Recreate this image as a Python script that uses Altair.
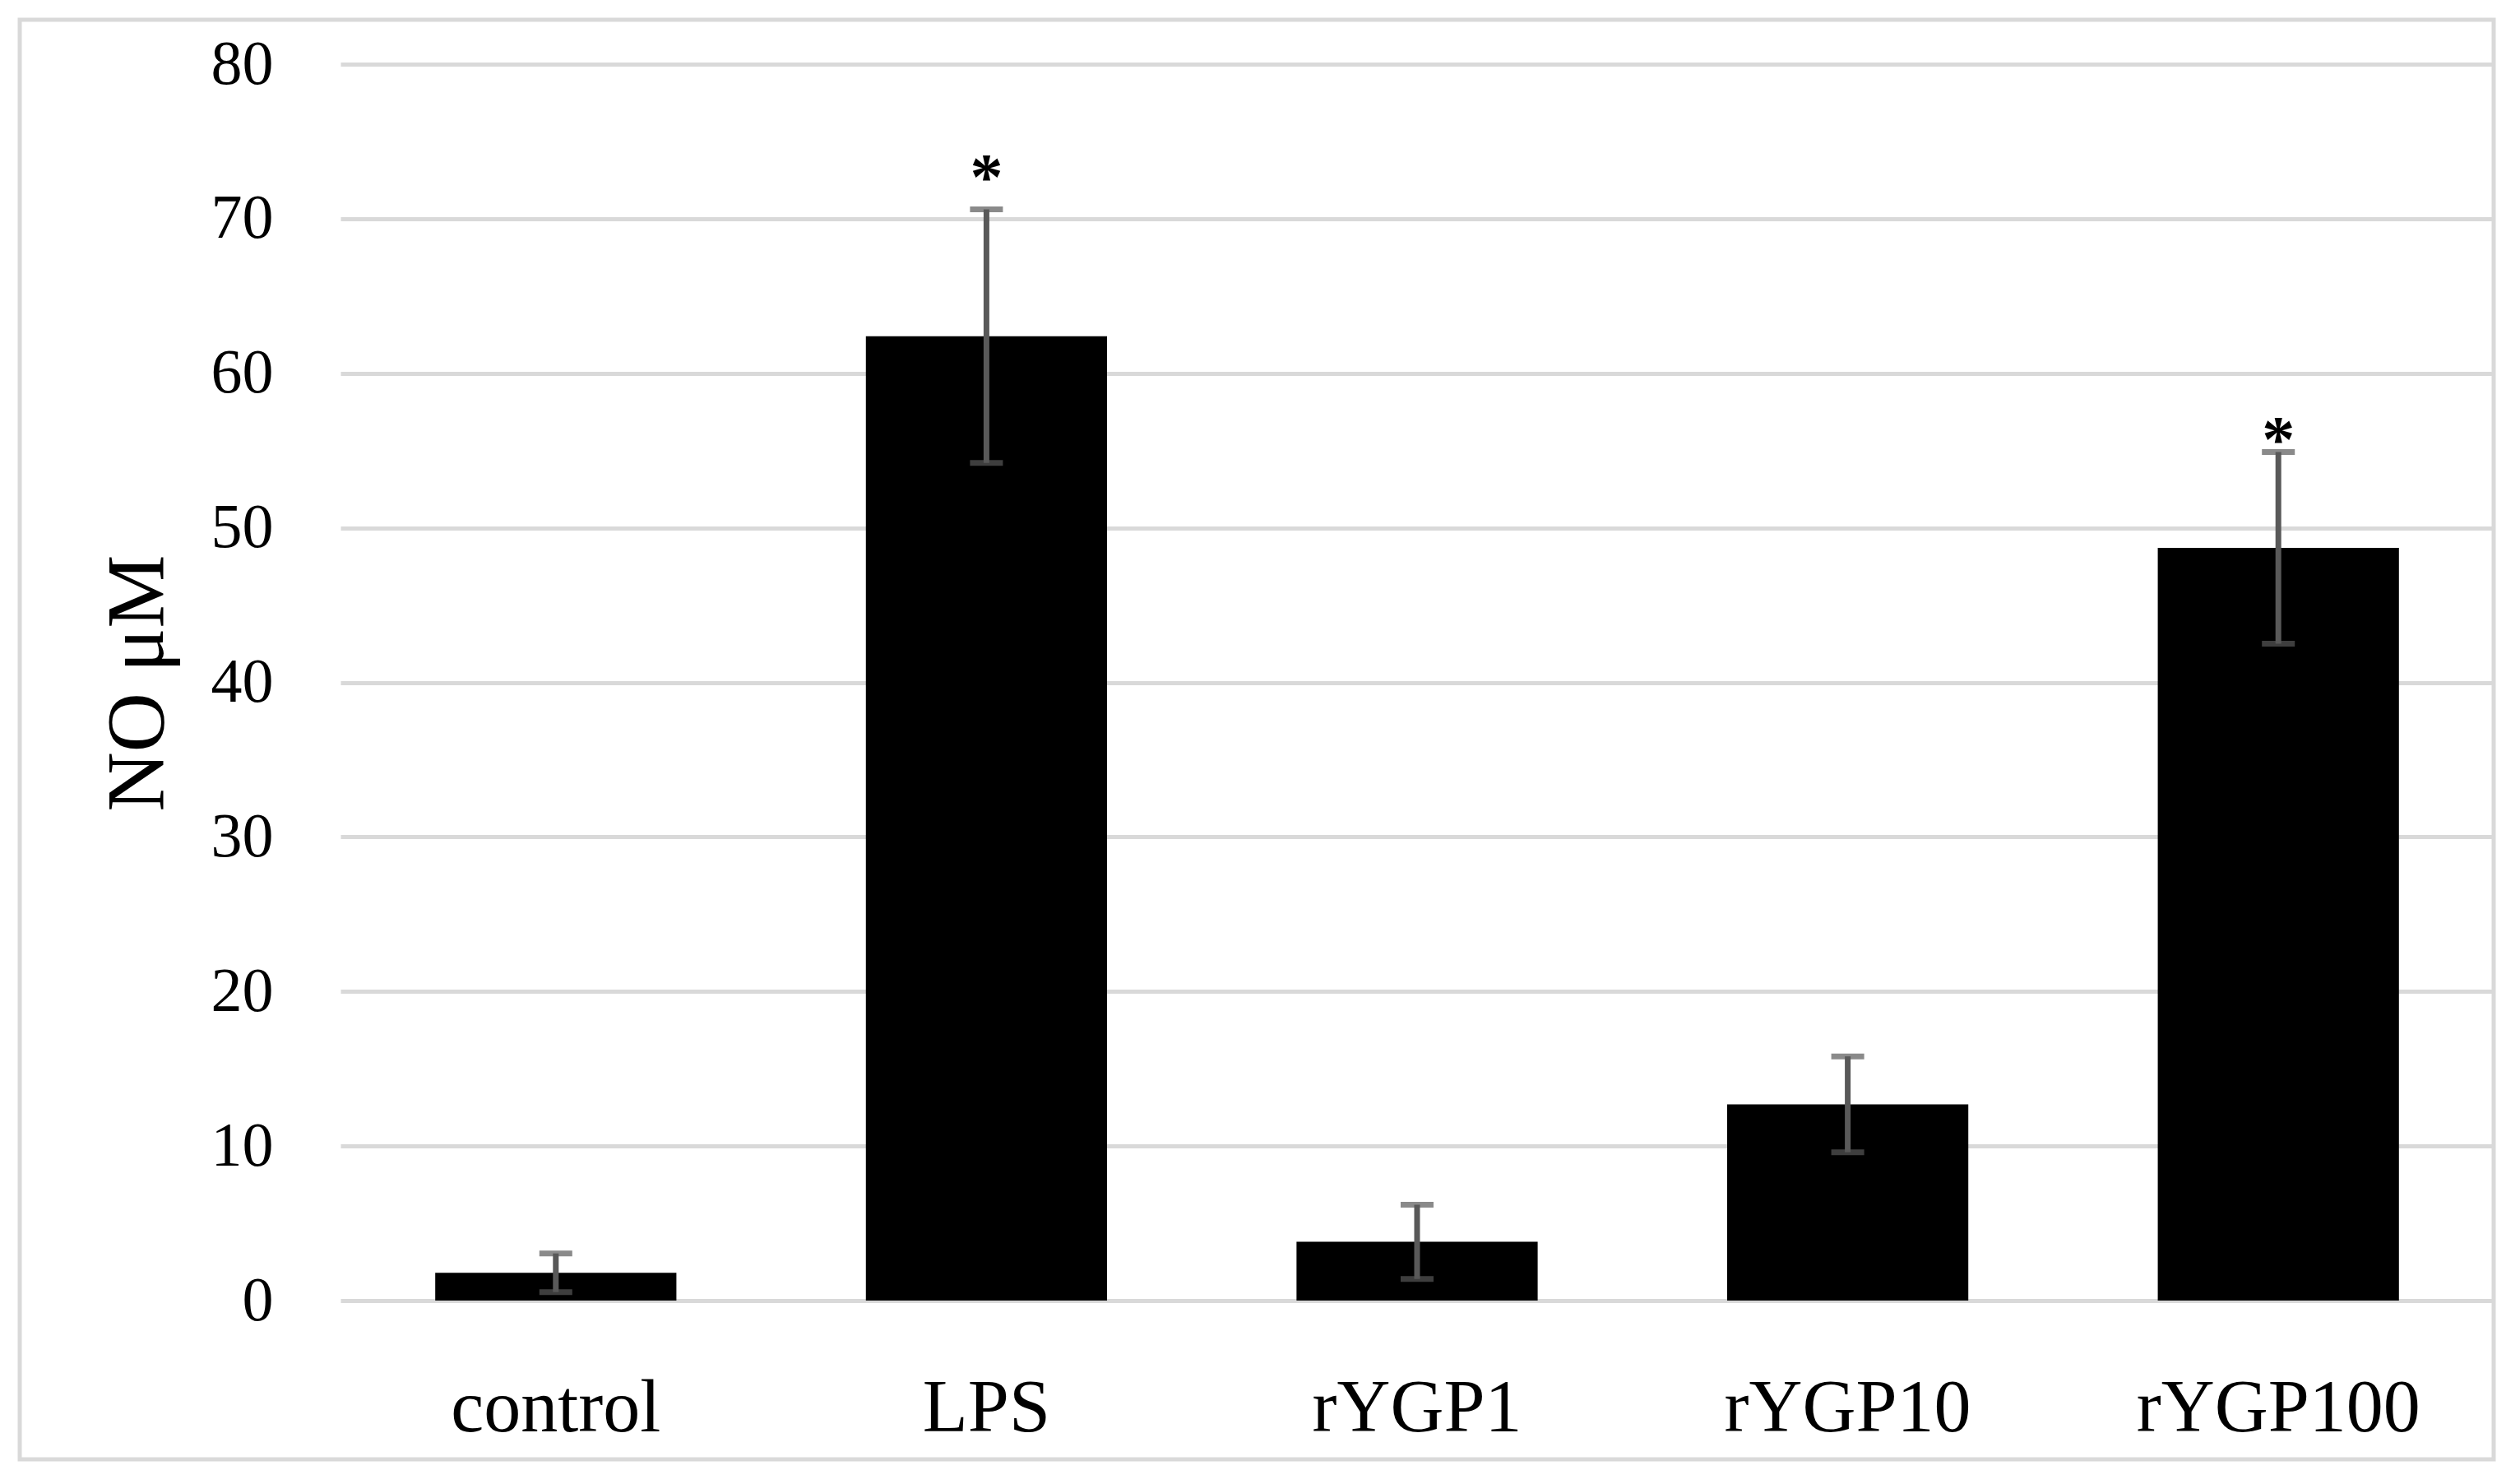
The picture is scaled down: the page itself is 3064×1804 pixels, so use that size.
import altair as alt
import pandas as pd

categories = ["control", "LPS", "rYGP1", "rYGP10", "rYGP100"]
means = [1.8, 62.4, 3.8, 12.7, 48.7]
errors = [1.25, 8.2, 2.4, 3.1, 6.2]
star_categories = ["LPS", "rYGP100"]
star_positions = [73.3, 56.3]
y_ticks = [0, 10, 20, 30, 40, 50, 60, 70, 80]

FONT = "Liberation Serif"
W, H = 2618, 1503
YTITLE = "NO μM"

df = pd.DataFrame({"cat": categories, "mean": means, "err": errors})
df["lo"] = df["mean"] - df["err"]
df["hi"] = df["mean"] + df["err"]
stars = pd.DataFrame({"cat": star_categories, "pos": star_positions, "label": ["*"] * len(star_categories)})

xscale = alt.Scale(paddingInner=0.44, paddingOuter=0.22)
x_main = alt.X(
    "cat:N", sort=categories, title=None, scale=xscale,
    axis=alt.Axis(labelAngle=0, labelFontSize=90, labelFont=FONT, labelColor="black",
                  labelBaseline="alphabetic", labelPadding=158, labelLimit=0, domain=False,
                  ticks=False, tickSize=0, grid=False),
)
x_plain = alt.X("cat:N", sort=categories, title=None, scale=xscale)

yscale = alt.Scale(domain=[0, 80], nice=False)
y_main = alt.Y(
    "mean:Q", scale=yscale, title=YTITLE,
    axis=alt.Axis(values=y_ticks, grid=True, gridColor="#d9d9d9", gridWidth=5, domain=False,
                  ticks=False, tickSize=0, labelFontSize=76, labelFont=FONT, labelColor="black",
                  labelPadding=82, titleFont=FONT, titleFontSize=100, titleFontWeight="normal",
                  titleColor="black", titleAngle=270, titleX=-217, titleY=752,
                  titleAlign="center", titleBaseline="alphabetic"),
)

base = alt.Chart(df)

bars = base.mark_bar(color="black").encode(x=x_main, y=y_main)

stems = base.mark_rule(color="#595959", strokeWidth=7).encode(
    x=x_plain, y=alt.Y("lo:Q", scale=yscale, title=YTITLE), y2="hi:Q"
)
caps_lo = base.mark_tick(color="#595959", thickness=7, size=40).encode(
    x=x_plain, y=alt.Y("lo:Q", scale=yscale, title=YTITLE)
)
caps_hi = base.mark_tick(color="#595959", thickness=7, size=40).encode(
    x=x_plain, y=alt.Y("hi:Q", scale=yscale, title=YTITLE)
)
star_text = alt.Chart(stars).mark_text(
    font=FONT, fontSize=80, fontWeight="bold", color="black", baseline="alphabetic", dy=38
).encode(x=x_plain, y=alt.Y("pos:Q", scale=yscale, title=YTITLE), text="label:N")

frame = alt.Chart(alt.Data(values=[{"a": 1}])).mark_rect(
    filled=False, stroke="#d9d9d9", strokeWidth=5
).encode(x=alt.value(-390), x2=alt.value(W), y=alt.value(-54), y2=alt.value(1696))

chart = alt.layer(bars, stems, caps_lo, caps_hi, star_text, frame).properties(
    width=W, height=H,
    padding={"left": 406, "top": 70, "right": 20, "bottom": 200},
    autosize=alt.AutoSizeParams(type="none"),
    background="white",
).configure_view(stroke=None)

chart.save("out.html", embed_options={"renderer": "svg", "actions": False})
